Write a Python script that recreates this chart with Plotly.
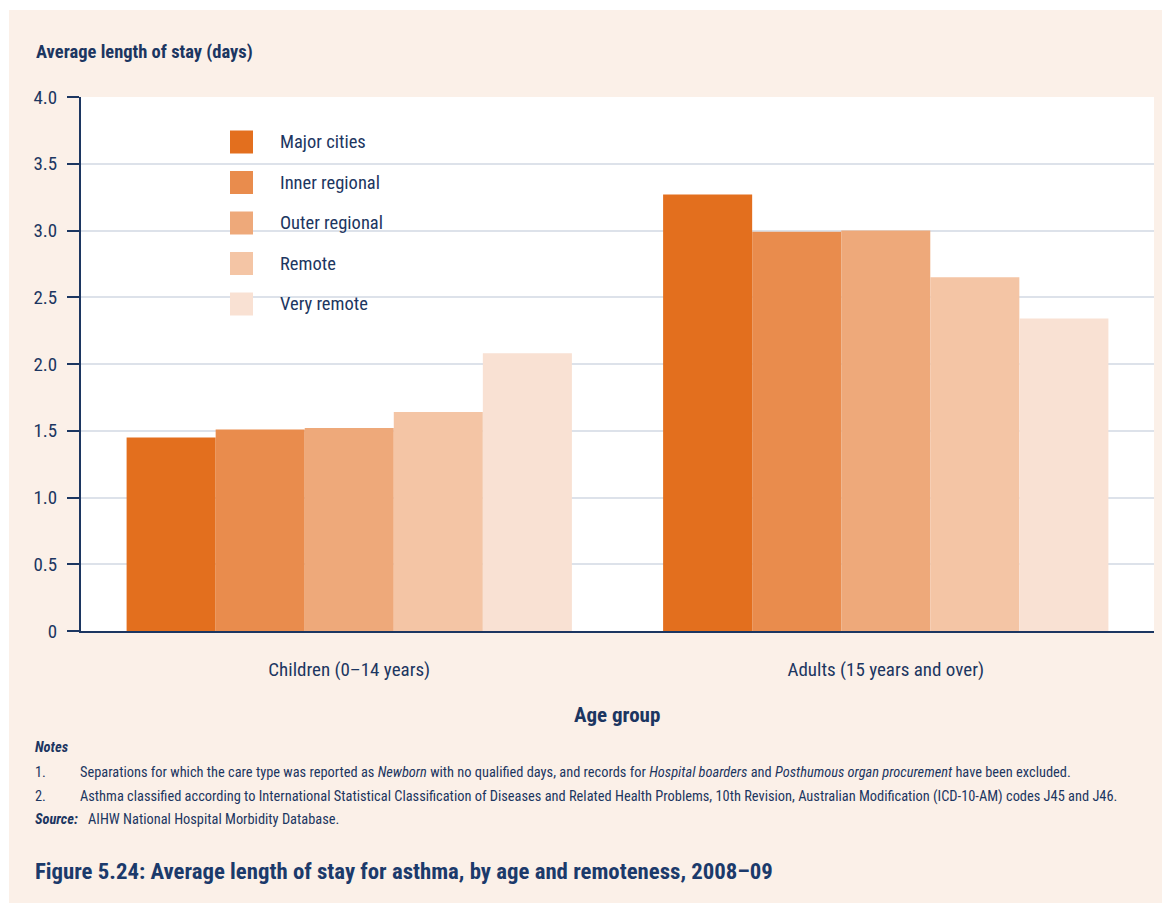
import plotly.graph_objects as go

categories = ["Children (0–14 years)", "Adults (15 years and over)"]
series_names = ["Major cities", "Inner regional", "Outer regional", "Remote", "Very remote"]
major_cities = [1.45, 3.27]
inner_regional = [1.51, 2.99]
outer_regional = [1.52, 3.00]
remote = [1.64, 2.65]
very_remote = [2.08, 2.34]
series_values = [major_cities, inner_regional, outer_regional, remote, very_remote]
colors = ["#E36F1E", "#E98C4D", "#EEA97A", "#F4C5A5", "#F9E1D3"]
y_ticks = [0, 0.5, 1.0, 1.5, 2.0, 2.5, 3.0, 3.5, 4.0]
y_tick_labels = ["0", "0.5", "1.0", "1.5", "2.0", "2.5", "3.0", "3.5", "4.0"]

NAVY = "#1C3661"
FONT = "Liberation Sans Narrow, Roboto Condensed, Arial Narrow, Roboto, sans-serif"
W, H = 1162, 903
# plot area: x 81..1154, y 97..631
L, R, T, B = 81, W - 1154, 97, H - 631
PW, PH = W - L - R, H - T - B


def px(x):
    return (x - L) / PW


def py(y):
    return (H - B - y) / PH


fig = go.Figure()
for name, vals, col in zip(series_names, series_values, colors):
    fig.add_trace(go.Bar(x=categories, y=vals, name=name, marker=dict(color=col, line=dict(width=0)),
                         showlegend=False))

shapes = []
shapes.append(dict(type="rect", xref="paper", yref="paper", x0=px(9), x1=px(W + 5), y0=py(10), y1=py(H + 5),
                   fillcolor="#FBF0E8", line=dict(width=0), layer="below"))
shapes.append(dict(type="rect", xref="paper", yref="paper", x0=0, x1=1, y0=0, y1=1,
                   fillcolor="white", line=dict(width=0), layer="below"))
shapes.append(dict(type="rect", xref="paper", yref="paper", x0=px(198), x1=px(448), y0=py(326), y1=py(110),
                   fillcolor="white", line=dict(width=0), layer="between"))

annotations = []
for i, (name, col) in enumerate(zip(series_names, colors)):
    cy = 142 + i * 40.5
    shapes.append(dict(type="rect", xref="paper", yref="paper", x0=px(230), x1=px(253),
                       y0=py(cy + 11.5), y1=py(cy - 11.5), fillcolor=col, line=dict(width=0)))
    annotations.append(dict(xref="paper", yref="paper", x=px(278), y=py(cy), text=name, showarrow=False,
                            xanchor="left", yanchor="middle", font=dict(size=18.5, color=NAVY, family=FONT)))

annotations.append(dict(xref="paper", yref="paper", x=px(34), y=py(52), text="<b>Average length of stay (days)</b>",
                        showarrow=False, xanchor="left", yanchor="middle",
                        font=dict(size=18.5, color=NAVY, family=FONT)))
annotations.append(dict(xref="paper", yref="paper", x=px(617), y=py(715), text="<b>Age group</b>",
                        showarrow=False, xanchor="center", yanchor="middle",
                        font=dict(size=21, color=NAVY, family=FONT)))
annotations.append(dict(xref="paper", yref="paper", x=px(33), y=py(747), text="<b><i>Notes</i></b>",
                        showarrow=False, xanchor="left", yanchor="middle",
                        font=dict(size=14.5, color=NAVY, family=FONT)))
notes = [
    ("1.", "Separations for which the care type was reported as <i>Newborn</i> with no qualified days, and records for "
           "<i>Hospital boarders</i> and <i>Posthumous organ procurement</i> have been excluded."),
    ("2.", "Asthma classified according to International Statistical Classification of Diseases and Related Health "
           "Problems, 10th Revision, Australian Modification (ICD-10-AM) codes J45 and J46."),
]
for i, (num, txt) in enumerate(notes):
    yy = 772 + i * 24
    annotations.append(dict(xref="paper", yref="paper", x=px(33), y=py(yy), text=num, showarrow=False,
                            xanchor="left", yanchor="middle", font=dict(size=14.4, color=NAVY, family=FONT)))
    annotations.append(dict(xref="paper", yref="paper", x=px(78), y=py(yy), text=txt, showarrow=False,
                            xanchor="left", yanchor="middle", font=dict(size=14.4, color=NAVY, family=FONT)))
annotations.append(dict(xref="paper", yref="paper", x=px(33), y=py(819), text="<b><i>Source:</i></b>",
                        showarrow=False, xanchor="left", yanchor="middle",
                        font=dict(size=14.4, color=NAVY, family=FONT)))
annotations.append(dict(xref="paper", yref="paper", x=px(86), y=py(819), text="AIHW National Hospital Morbidity Database.",
                        showarrow=False, xanchor="left", yanchor="middle",
                        font=dict(size=14.4, color=NAVY, family=FONT)))
annotations.append(dict(xref="paper", yref="paper", x=px(33), y=py(871),
                        text="<b>Figure 5.24: Average length of stay for asthma, by age and remoteness, 2008–09</b>",
                        showarrow=False, xanchor="left", yanchor="middle",
                        font=dict(size=22.8, color="#1B3A6B", family=FONT)))

fig.update_layout(
    width=W, height=H,
    margin=dict(l=L, r=R, t=T, b=B, pad=0),
    paper_bgcolor="white",
    plot_bgcolor="rgba(0,0,0,0)",
    barmode="group",
    bargap=0.17,
    bargroupgap=0,
    shapes=shapes,
    annotations=annotations,
    font=dict(family=FONT, color=NAVY, size=19),
    xaxis=dict(showgrid=False, showline=True, linecolor=NAVY, linewidth=2, ticks="",
               tickfont=dict(size=19, color=NAVY, family=FONT), ticklabelstandoff=20, fixedrange=True),
    yaxis=dict(range=[0, 4.0], tickvals=y_ticks, ticktext=y_tick_labels, showgrid=True,
               gridcolor="#DDE2EA", gridwidth=2, showline=True, linecolor=NAVY, linewidth=2,
               ticks="outside", ticklen=12, tickcolor=NAVY, tickwidth=1.5, zeroline=False,
               tickfont=dict(size=19, color=NAVY, family=FONT), ticklabelstandoff=6, fixedrange=True),
)

fig.write_html("out.html",
               config={"displayModeBar": False},
               post_script="document.body.style.margin='0';document.body.style.overflow='hidden';")
